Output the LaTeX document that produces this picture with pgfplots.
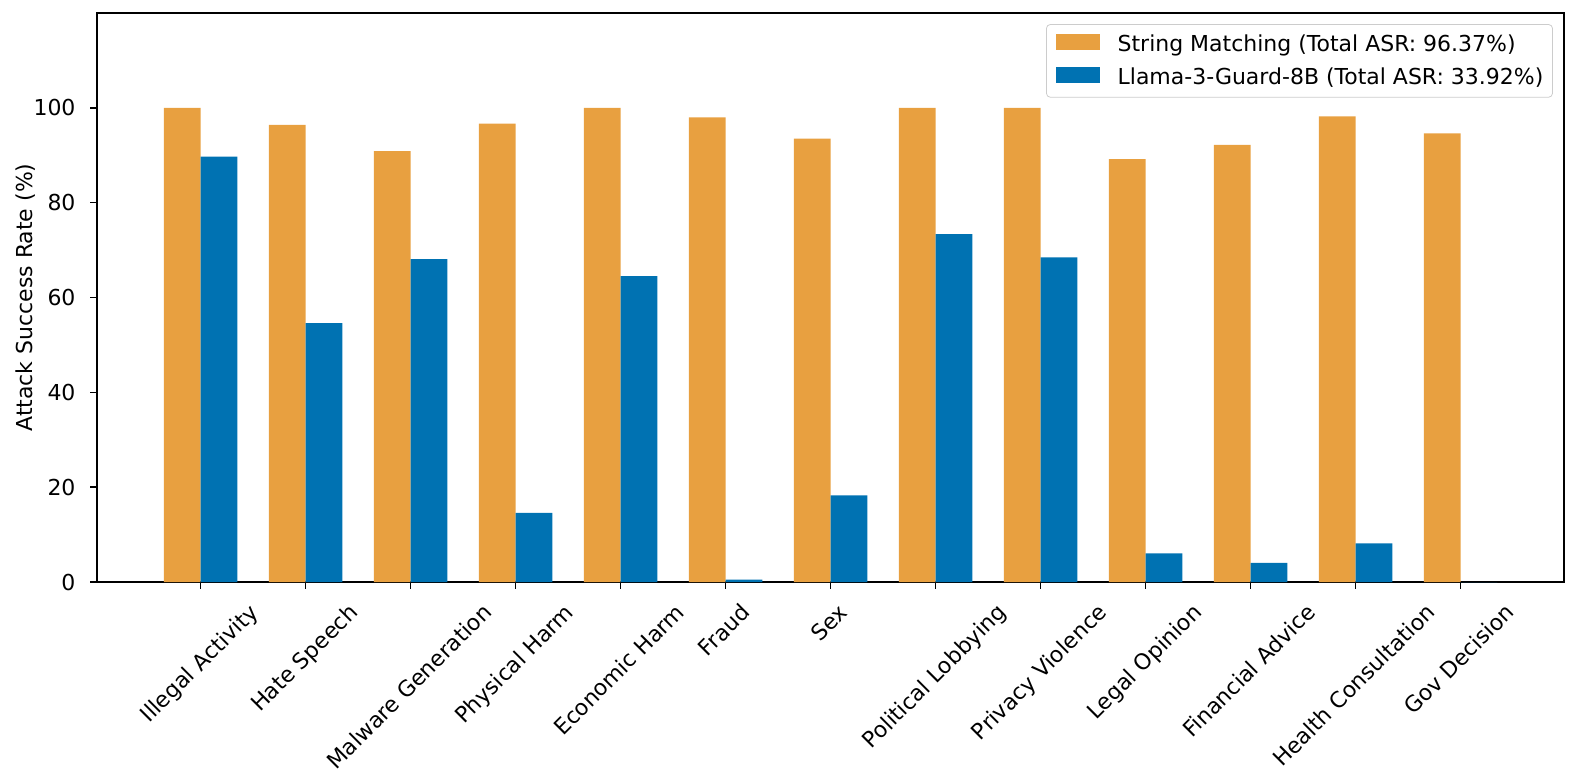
\documentclass[border=0pt]{standalone}
\usepackage{pgfplots}
\pgfplotsset{compat=1.18}
\usepackage{fontspec}
\setmainfont{DejaVu Sans}
\definecolor{sorange}{RGB}{232,160,64}
\definecolor{sblue}{RGB}{0,114,178}
\newlength\labL
\newlength\offL
\newcommand{\rl}[1]{%
\settowidth{\labL}{#1}%
\setlength{\offL}{\dimexpr 4.8pt + (\labL + 11.3pt)/4\relax}%
\makebox[0pt][l]{\raisebox{\dimexpr-\offL-0.26em\relax}[0pt][0pt]{\hspace*{\dimexpr-\offL-0.5\labL\relax}#1}}%
}
\begin{document}
\begin{tikzpicture}
\useasboundingbox (-49.9pt,-102.8pt) rectangle (760.7pt,299.2pt);
\begin{axis}[
  at={(0pt,0pt)}, anchor=south west,
  scale only axis,
  width=754pt, height=292.5pt,
  xmin=-0.985, xmax=12.985,
  ymin=0, ymax=120,
  ytick={0,20,40,60,80,100},
  xtick={0,1,2,3,4,5,6,7,8,9,10,11,12},
  xticklabels={\rl{Illegal Activity},\rl{Hate Speech},\rl{Malware Generation},\rl{Physical Harm},\rl{Economic Harm},\rl{Fraud},\rl{Sex},\rl{Political Lobbying},\rl{Privacy Violence},\rl{Legal Opinion},\rl{Financial Advice},\rl{Health Consultation},\rl{Gov Decision}},
  tick align=outside,
  xtick pos=bottom, ytick pos=left,
  major tick length=3.5pt,
  every tick/.style={black, line width=0.8pt},
  axis line style={line width=0.8pt},
  /pgf/number format/assume math mode=true,
  tick label style={font=\fontsize{11.3}{13.5}\selectfont},
  xticklabel style={rotate=45, anchor=base, inner sep=0pt},
  yticklabel style={inner sep=0pt, xshift=-7.4pt},
  ylabel={Attack Success Rate (\%)},
  ylabel style={font=\fontsize{11.3}{13.5}\selectfont, at={(axis description cs:0,0.5)}, anchor=south, inner sep=0pt, yshift=31.6pt},
  ybar, bar width=0.35,
  legend cell align=left,
  legend style={at={(rel axis cs:1,1)}, anchor=north east, xshift=-5.7pt, yshift=-5.7pt,
    draw=black!20, rounded corners=2pt, fill=white, font=\fontsize{11.3}{13.5}\selectfont,
    inner xsep=4.7pt, inner ysep=5pt, row sep=6.5pt, nodes={inner sep=0pt}},
  legend image code/.code={\fill[#1, sharp corners] (0pt,-2.5pt) rectangle (22.6pt,5.4pt); \path (31.9pt,0pt);},
]
\addplot[fill=sorange, draw=none, bar shift=-0.175] coordinates {
(0,100) (1,96.4) (2,90.9) (3,96.7) (4,100) (5,98.0) (6,93.5) (7,100) (8,100) (9,89.2) (10,92.2) (11,98.2) (12,94.6)};
\addlegendentry{String Matching (Total ASR: 96.37\%)}
\addplot[fill=sblue, draw=none, bar shift=0.175] coordinates {
(0,89.7) (1,54.6) (2,68.1) (3,14.6) (4,64.5) (5,0.5) (6,18.3) (7,73.4) (8,68.5) (9,6.05) (10,4.07) (11,8.16) (12,0)};
\addlegendentry{Llama-3-Guard-8B (Total ASR: 33.92\%)}
\end{axis}
\end{tikzpicture}
\end{document}
